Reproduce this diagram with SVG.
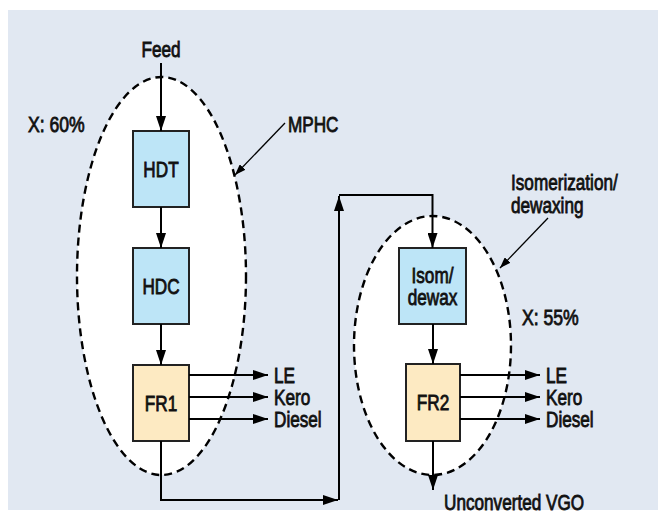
<svg xmlns="http://www.w3.org/2000/svg" width="658" height="513" viewBox="0 0 658 513">
  <defs>
    <marker id="arrow" markerUnits="userSpaceOnUse" markerWidth="16" markerHeight="10" refX="15" refY="5" orient="auto">
      <path d="M0,0 L15,5 L0,10 z" fill="#000"/>
    </marker>
    <marker id="arrowSmall" markerUnits="userSpaceOnUse" markerWidth="12" markerHeight="8" refX="11" refY="4" orient="auto">
      <path d="M0,0 L11,4 L0,8 z" fill="#000"/>
    </marker>
  </defs>
  <style>
    text { font-family: "Liberation Sans", Arial, sans-serif; font-size: 22px; fill: #111; stroke: #111; stroke-width: 0.85; }
    .zone { fill: #fff; stroke: #000; stroke-width: 2.4; stroke-dasharray: 8 5; }
    .unit { stroke: #222; stroke-width: 2; }
    .reactor { fill: #bde5f7; }
    .fract { fill: #fdeac2; }
    .flow { fill: none; stroke: #000; stroke-width: 2; }
    .lead { fill: none; stroke: #000; stroke-width: 1.3; }
    .mid { text-anchor: middle; }
  </style>

  <!-- panel -->
  <rect x="8" y="10" width="650" height="500" fill="#e1e8f2"/>

  <!-- process zones (labels use a condensed horizontal scale) -->
  <g id="zone-mphc">
    <ellipse class="zone" cx="161.5" cy="276" rx="84.5" ry="199"/>
    <text transform="translate(28,132) scale(0.8,1)">X: 60%</text>
    <text transform="translate(288,132) scale(0.78,1)">MPHC</text>
  </g>
  <g id="zone-isom">
    <ellipse class="zone" cx="432.5" cy="345.5" rx="78.5" ry="129.5"/>
    <text transform="translate(511,190) scale(0.78,1)">Isomerization/</text>
    <text transform="translate(511,213) scale(0.78,1)">dewaxing</text>
    <text transform="translate(522,325) scale(0.8,1)">X: 55%</text>
  </g>

  <!-- units -->
  <g id="HDT">
    <rect class="unit reactor" x="133" y="131" width="56" height="76"/>
    <text class="mid" transform="translate(161,177) scale(0.78,1)">HDT</text>
  </g>
  <g id="HDC">
    <rect class="unit reactor" x="133" y="248" width="56" height="76"/>
    <text class="mid" transform="translate(161,294) scale(0.78,1)">HDC</text>
  </g>
  <g id="FR1">
    <rect class="unit fract" x="133" y="365" width="56" height="76"/>
    <text class="mid" transform="translate(161,411) scale(0.78,1)">FR1</text>
  </g>
  <g id="ISOM">
    <rect class="unit reactor" x="399" y="248" width="67" height="76"/>
    <text class="mid" transform="translate(432.5,283) scale(0.78,1)">Isom/</text>
    <text class="mid" transform="translate(432.5,305) scale(0.78,1)">dewax</text>
  </g>
  <g id="FR2">
    <rect class="unit fract" x="406" y="364" width="54" height="77"/>
    <text class="mid" transform="translate(433,410) scale(0.78,1)">FR2</text>
  </g>

  <!-- stream labels -->
  <g id="products">
    <text transform="translate(274,383) scale(0.78,1)">LE</text>
    <text transform="translate(274,405) scale(0.78,1)">Kero</text>
    <text transform="translate(274,427) scale(0.78,1)">Diesel</text>
    <text transform="translate(546,383) scale(0.78,1)">LE</text>
    <text transform="translate(546,405) scale(0.78,1)">Kero</text>
    <text transform="translate(546,427) scale(0.78,1)">Diesel</text>
    <text class="mid" transform="translate(161,57) scale(0.78,1)">Feed</text>
    <text transform="translate(444,510) scale(0.78,1)">Unconverted VGO</text>
  </g>

  <!-- connectors -->
  <g id="connectors">
    <path class="flow" d="M161,63 V131" marker-end="url(#arrow)"/>
    <path class="flow" d="M161,207 V248" marker-end="url(#arrow)"/>
    <path class="flow" d="M161,324 V365" marker-end="url(#arrow)"/>
    <path class="flow" d="M189,375 H268" marker-end="url(#arrow)"/>
    <path class="flow" d="M189,397 H268" marker-end="url(#arrow)"/>
    <path class="flow" d="M189,419 H268" marker-end="url(#arrow)"/>
    <path class="flow" d="M161,441 V500 H338" marker-end="url(#arrow)"/>
    <path class="flow" d="M339,500 V196" marker-end="url(#arrow)"/>
    <path class="flow" d="M339,195 H432.5 V248" marker-end="url(#arrow)"/>
    <path class="flow" d="M433,324 V364" marker-end="url(#arrow)"/>
    <path class="flow" d="M460,375 H540" marker-end="url(#arrow)"/>
    <path class="flow" d="M460,397 H540" marker-end="url(#arrow)"/>
    <path class="flow" d="M460,419 H540" marker-end="url(#arrow)"/>
    <path class="flow" d="M433,441 V490" marker-end="url(#arrow)"/>
    <path class="lead" d="M285,123 L235,175" marker-end="url(#arrowSmall)"/>
    <path class="lead" d="M548,218 L500,268" marker-end="url(#arrowSmall)"/>
  </g>
</svg>
